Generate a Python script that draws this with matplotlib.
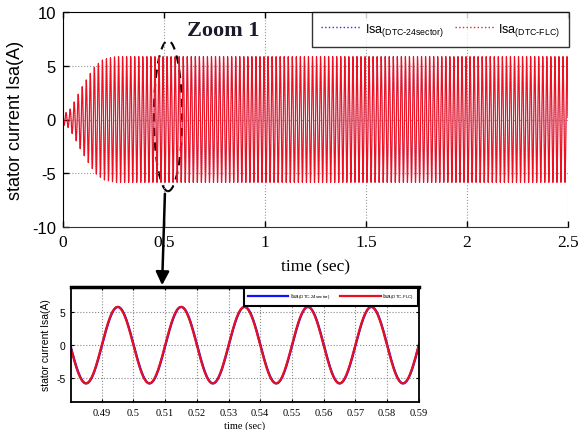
import numpy as np
import matplotlib
matplotlib.use('Agg')
import matplotlib.pyplot as plt
from matplotlib.patches import Ellipse, FancyArrowPatch

plt.rcParams['font.family'] = ['Liberation Sans', 'DejaVu Sans']
plt.rcParams['mathtext.default'] = 'regular'

# --- data ---
freq = 50.0                      # Hz, one period = 0.02 s in the zoom
t_end = 2.5
env_t = [0.0, 0.03, 0.06, 0.09, 0.125, 0.16, 0.20, 0.26, 2.5]    # envelope of Isa (s)
env_amp = [0.5, 0.8, 1.8, 2.9, 4.0, 5.0, 5.6, 5.85, 5.85]        # peak current (A)
blue_lag = 0.0001                # DTC-24sector trace lags a hair behind the FLC one
xticks_main = [0, 0.5, 1, 1.5, 2, 2.5]
yticks_main = [-10, -5, 0, 5, 10]
xticks_zoom = [0.49, 0.50, 0.51, 0.52, 0.53, 0.54, 0.55, 0.56, 0.57, 0.58, 0.59]
xlabels_zoom = ['0.49', '0.5', '0.51', '0.52', '0.53', '0.54', '0.55', '0.56', '0.57', '0.58', '0.59']
yticks_zoom = [-5, 0, 5]
lbl_24 = r'Isa$_{(DTC\text{-}24sector)}$'
lbl_flc = r'Isa$_{(DTC\text{-}FLC)}$'

t = np.arange(0, t_end, 1e-4)
amp = np.interp(t, env_t, env_amp)
isa_flc = -amp * np.sin(2 * np.pi * freq * t)
isa_24 = -amp * np.sin(2 * np.pi * freq * (t - blue_lag))

fig = plt.figure(figsize=(5.84, 4.31), dpi=100)
W, H = 584.0, 431.0

# ---------------- main plot ----------------
ax = fig.add_axes([63 / W, 1 - 228 / H, 505 / W, 215 / H])
ax.plot(t, isa_24, color='#2020c0', lw=0.5, ls=':', label=lbl_24)
ax.plot(t, isa_flc, color='#ee1020', lw=0.85, label=lbl_flc)
ax.set_xlim(0, 2.5)
ax.set_ylim(-10, 10)
ax.set_xticks(xticks_main)
ax.set_xticklabels(['0', '0.5', '1', '1.5', '2', '2.5'], family='Liberation Serif', fontsize=12.5)
ax.set_yticks(yticks_main)
ax.set_yticklabels(['-10', '-5', '0', '5', '10'], fontsize=12)
ax.tick_params(direction='in', length=4, width=1, top=True, right=False, pad=5)
ax.grid(True, ls=':', color='#999999', lw=0.8)
ax.spines['right'].set_visible(False)
ax.spines['top'].set_linestyle((0, (1, 1)))
ax.spines['left'].set_linestyle((0, (1, 1)))
ax.spines['bottom'].set_color('#333333')
ax.set_ylabel('stator current Isa(A)', fontsize=13, labelpad=6)
ax.set_xlabel('time (sec)', family='Liberation Serif', fontsize=12.5, labelpad=6)
leg = ax.legend(loc='upper right', bbox_to_anchor=(569 / W, 1 - 13 / H), bbox_transform=fig.transFigure,
                ncol=2, fontsize=9, frameon=True, fancybox=False, handlelength=3.2,
                handletextpad=0.3, columnspacing=0.9, borderpad=0.7, borderaxespad=0)
leg.get_frame().set_edgecolor('black')
leg.get_frame().set_linewidth(1.0)
for h, c in zip(leg.legend_handles, ['#3030d0', '#ee2030']):
    h.set_linewidth(1.0)
    h.set_linestyle(':')
    h.set_color(c)

fig.text(223 / W, 1 - 31 / H, 'Zoom 1', family='Liberation Serif', fontsize=16,
         fontweight='bold', ha='center', va='center', color='#1a1a2a')

ell = Ellipse((0.52, 0.33), 0.14, 14.0, angle=0, fill=False, ls=(0, (4, 3)), lw=1.5, color='black')
ax.add_patch(ell)

arr = FancyArrowPatch((165, H - 192), (162, H - 289), transform=None, arrowstyle='-|>',
                      mutation_scale=20, lw=1.8, color='black')
fig.patches.append(arr)

# ---------------- zoom inset ----------------
az = fig.add_axes([71 / W, 1 - 403 / H, 348 / W, 115 / H])
m = (t >= 0.47) & (t <= 0.60)
az.plot(t[m], isa_24[m], color='#1010ff', lw=1.6, label=lbl_24)
az.plot(t[m], isa_flc[m], color='#e8101e', lw=1.6, label=lbl_flc)
az.set_xlim(0.4803, 0.5901)
az.set_ylim(-8.7, 8.9)
az.set_xticks(xticks_zoom)
az.set_xticklabels(xlabels_zoom, family='Liberation Serif', fontsize=7.5)
az.set_yticks(yticks_zoom)
az.set_yticklabels(['-5', '0', '5'], fontsize=7.5)
az.tick_params(direction='in', length=2, width=0.8, top=True, right=True, pad=4)
az.grid(True, ls=':', color='#888888', lw=0.8)
for s in ['left', 'right', 'bottom']:
    az.spines[s].set_linestyle((0, (1, 1)))
    az.spines[s].set_linewidth(1.3)
az.spines['top'].set_linewidth(2.5)
az.set_ylabel('stator current Isa(A)', fontsize=7.5, labelpad=4)
az.set_xlabel('time (sec)', family='Liberation Serif', fontsize=7.5, labelpad=3)
leg2 = az.legend(loc='upper right', bbox_to_anchor=(418 / W, 1 - 289 / H), bbox_transform=fig.transFigure,
                 ncol=2, fontsize=4.5, frameon=True, fancybox=False, handlelength=6.5,
                 handletextpad=0.3, columnspacing=1.5, borderpad=0.6, borderaxespad=0)
leg2.get_frame().set_edgecolor('black')
leg2.get_frame().set_linewidth(1.5)
leg2.get_frame().set_alpha(1)

fig.savefig('out.png', dpi=100)
